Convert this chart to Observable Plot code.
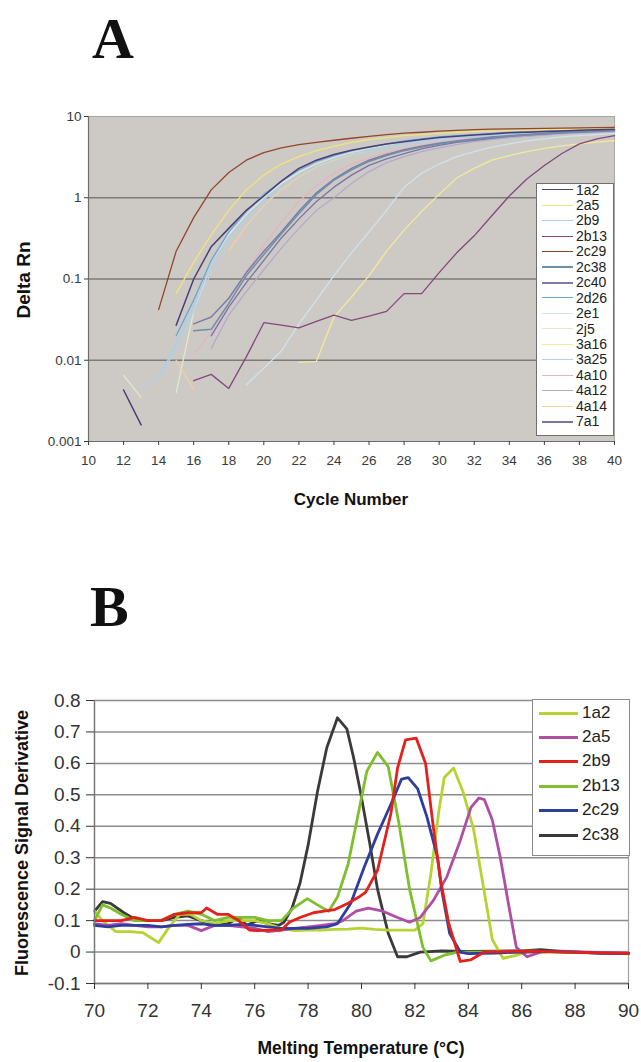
<!DOCTYPE html>
<html><head><meta charset="utf-8">
<script src="https://cdn.jsdelivr.net/npm/d3@7"></script>
<script src="https://cdn.jsdelivr.net/npm/@observablehq/plot@0.6"></script>
<style>
body{margin:0;background:#fff;}
#root{position:relative;width:641px;height:1062px;overflow:hidden;font-family:"Liberation Sans",Arial,sans-serif;background:#fff;}
.abs{position:absolute;}
.ctr{position:absolute;transform:translate(-50%,-50%);white-space:nowrap;}
.rot{position:absolute;transform:translate(-50%,-50%) rotate(-90deg);white-space:nowrap;}
.panel{position:absolute;font-family:"Liberation Serif","Times New Roman",serif;font-weight:bold;line-height:1.15;}
</style>
</head><body><div id="root"></div>
<script>
// ---------- Panel A data (Delta Rn by cycle, cycles 10..40) ----------
const cycles = [10,11,12,13,14,15,16,17,18,19,20,21,22,23,24,25,26,27,28,29,30,31,32,33,34,35,36,37,38,39,40];
const seriesA = ["1a2","2a5","2b9","2b13","2c29","2c38","2c40","2d26","2e1","2j5","3a16","3a25","4a10","4a12","4a14","7a1"];
const colorsA = ["#4a3e78","#f0e47a","#a9d0ea","#85477d","#94452a","#6f8fa6","#7c7ca8","#6aa6d6","#cfe3ef","#e3e8cf","#f2ea9a","#b9cfe0","#e3b5bd","#b3a9cc","#f1cfa0","#7b72a8"];
const a_1a2  = [null,null,0.0043,0.0016,null,0.027,0.10,0.25,0.42,0.7,1.05,1.6,2.3,2.9,3.4,3.85,4.2,4.6,4.9,5.2,5.5,5.7,5.9,6.1,6.3,6.4,6.55,6.65,6.75,6.85,6.95];
const a_2a5  = [null,null,null,null,null,0.066,0.16,0.35,0.7,1.25,1.9,2.6,3.2,3.8,4.3,4.8,5.2,5.5,5.8,6.0,6.2,6.4,6.5,6.6,6.7,6.8,6.9,6.95,7.0,7.05,7.1];
const a_2b9  = [null,null,null,null,0.006,0.016,0.045,0.15,0.33,0.58,0.95,1.4,1.95,2.5,3.0,3.5,3.9,4.3,4.7,5.0,5.3,5.5,5.7,5.9,6.1,6.3,6.4,6.5,6.6,6.7,6.8];
const a_2b13 = [null,null,null,null,null,null,0.0056,0.0067,0.0045,0.011,0.029,0.027,0.025,0.03,0.036,0.031,0.035,0.04,0.066,0.066,0.12,0.21,0.34,0.6,1.05,1.7,2.5,3.5,4.6,5.3,5.8];
const a_2c29 = [null,null,null,null,0.042,0.22,0.57,1.25,2.05,2.9,3.6,4.1,4.5,4.8,5.1,5.4,5.7,6.0,6.25,6.4,6.6,6.75,6.9,7.0,7.05,7.1,7.15,7.2,7.25,7.3,7.35];
const a_2c38 = [null,null,null,null,null,null,0.023,0.024,0.05,0.11,0.2,0.36,0.64,1.1,1.65,2.2,2.8,3.3,3.8,4.2,4.6,4.9,5.2,5.5,5.7,5.9,6.1,6.3,6.4,6.55,6.7];
const a_2c40 = [null,null,null,null,null,null,0.028,0.034,0.058,0.12,0.22,0.38,0.68,1.15,1.7,2.3,2.9,3.4,3.9,4.3,4.7,5.0,5.3,5.6,5.8,6.0,6.2,6.4,6.5,6.65,6.8];
const a_2d26 = [null,null,null,null,null,0.02,0.055,0.17,0.38,0.68,1.1,1.6,2.2,2.8,3.3,3.8,4.2,4.6,5.0,5.3,5.6,5.8,6.0,6.2,6.4,6.5,6.6,6.7,6.8,6.9,7.0];
const a_2e1  = [null,null,null,null,null,null,null,null,null,0.005,0.008,0.013,0.028,0.055,0.11,0.21,0.38,0.7,1.35,2.0,2.6,3.2,3.7,4.2,4.6,5.0,5.3,5.6,5.8,6.0,6.2];
const a_2j5  = [null,null,0.0065,0.0035,null,0.004,0.04,0.15,0.35,0.62,1.0,1.5,2.05,2.6,3.1,3.6,4.0,4.4,4.8,5.1,5.4,5.6,5.8,6.0,6.2,6.3,6.4,6.5,6.6,6.7,6.8];
const a_3a16 = [null,null,null,null,null,null,null,null,null,null,null,null,0.0094,0.0097,0.034,0.06,0.11,0.22,0.4,0.68,1.1,1.75,2.3,2.9,3.3,3.7,4.05,4.35,4.6,4.85,5.05];
const a_3a25 = [null,null,null,0.0048,0.0058,0.014,0.04,0.12,0.28,0.5,0.85,1.3,1.8,2.3,2.8,3.3,3.7,4.1,4.5,4.8,5.1,5.3,5.5,5.7,5.9,6.1,6.2,6.3,6.4,6.5,6.6];
const a_4a10 = [null,null,null,null,null,null,0.012,0.022,0.05,0.12,0.26,0.5,0.9,1.4,2.0,2.6,3.1,3.6,4.0,4.4,4.8,5.1,5.4,5.6,5.8,6.0,6.2,6.3,6.4,6.5,6.6];
const a_4a12 = [null,null,null,null,null,null,null,0.014,0.036,0.07,0.13,0.24,0.42,0.7,1.0,1.5,2.1,2.7,3.2,3.7,4.1,4.5,4.9,5.2,5.5,5.7,5.9,6.1,6.3,6.4,6.5];
const a_4a14 = [null,null,null,null,null,0.01,0.0044,null,0.22,0.45,0.8,1.25,1.8,2.4,2.9,3.4,3.9,4.3,4.7,5.0,5.3,5.6,5.8,6.0,6.2,6.4,6.5,6.6,6.7,6.8,6.9];
const a_7a1  = [null,null,null,null,null,null,null,0.02,0.045,0.09,0.17,0.32,0.55,0.9,1.35,1.9,2.5,3.0,3.5,4.0,4.4,4.8,5.1,5.4,5.7,5.9,6.1,6.3,6.45,6.6,6.7];
const valuesA = [a_1a2,a_2a5,a_2b9,a_2b13,a_2c29,a_2c38,a_2c40,a_2d26,a_2e1,a_2j5,a_3a16,a_3a25,a_4a10,a_4a12,a_4a14,a_7a1];
const xTicksA = [10,12,14,16,18,20,22,24,26,28,30,32,34,36,38,40];
const yTicksA = [0.001,0.01,0.1,1,10];
const yGridA = [0.01,0.1,1];

// ---------- Panel B data (melt curve derivative) ----------
const seriesB = ["1a2","2a5","2b9","2b13","2c29","2c38"];
const colorsB = ["#b6d334","#b04ea6","#e3201b","#7fbe2c","#2d3e9c","#3a3a3a"];
const b_1a2 = [[70,0.13],[70.3,0.1],[70.8,0.065],[71.3,0.065],[71.8,0.062],[72.4,0.03],[72.8,0.08],[73.2,0.12],[73.6,0.12],[74,0.1],[74.5,0.09],[75,0.1],[75.5,0.1],[76,0.1],[76.5,0.09],[77,0.075],[77.5,0.068],[78,0.07],[78.5,0.07],[79,0.072],[79.5,0.073],[80,0.076],[80.5,0.072],[81,0.07],[81.5,0.07],[82,0.07],[82.3,0.09],[82.6,0.25],[82.9,0.45],[83.1,0.555],[83.45,0.585],[83.8,0.51],[84.2,0.39],[84.5,0.24],[84.9,0.04],[85.3,-0.02],[85.7,-0.012],[86.2,0],[87,0.001],[88,-0.002],[89,-0.003],[90,-0.004]];
const b_2a5 = [[70,0.09],[70.5,0.085],[71,0.09],[71.5,0.085],[72,0.08],[72.5,0.08],[73,0.085],[73.5,0.085],[74,0.068],[74.5,0.085],[75,0.085],[75.5,0.08],[76,0.075],[76.5,0.065],[77,0.07],[77.5,0.075],[78,0.08],[78.5,0.085],[79,0.09],[79.3,0.1],[79.8,0.13],[80.25,0.14],[80.8,0.13],[81.35,0.11],[81.8,0.095],[82.2,0.11],[82.7,0.165],[83.2,0.24],[83.7,0.355],[84.1,0.46],[84.4,0.49],[84.6,0.485],[84.9,0.42],[85.2,0.3],[85.5,0.155],[85.8,0.015],[86.2,-0.015],[86.7,0.0],[87.5,0.003],[88.5,0],[90,-0.003]];
const b_2b9 = [[70,0.1],[70.5,0.1],[71,0.1],[71.5,0.11],[72,0.1],[72.5,0.1],[73,0.12],[73.5,0.125],[74,0.125],[74.2,0.14],[74.6,0.12],[75,0.12],[75.4,0.1],[75.8,0.07],[76.1,0.068],[76.5,0.07],[77,0.07],[77.3,0.095],[77.7,0.11],[78.2,0.125],[78.6,0.13],[79,0.135],[79.5,0.155],[79.9,0.175],[80.15,0.19],[80.6,0.26],[81.1,0.44],[81.35,0.585],[81.65,0.675],[82.05,0.68],[82.4,0.6],[82.7,0.39],[82.96,0.23],[83.27,0.09],[83.7,-0.03],[84.08,-0.025],[84.6,0],[85.5,0.002],[86.5,0.003],[87.5,0],[88.5,-0.002],[90,-0.004]];
const b_2b13 = [[70,0.1],[70.3,0.15],[70.6,0.14],[71,0.12],[71.5,0.1],[72,0.1],[72.5,0.1],[73,0.12],[73.5,0.13],[74,0.12],[74.5,0.1],[75,0.11],[75.5,0.11],[76,0.11],[76.5,0.1],[77,0.1],[77.45,0.14],[77.97,0.17],[78.35,0.15],[78.77,0.13],[79.1,0.175],[79.5,0.28],[79.95,0.47],[80.2,0.575],[80.6,0.635],[81.0,0.59],[81.4,0.41],[81.8,0.2],[82.3,0.015],[82.6,-0.028],[83.1,-0.01],[83.6,0.0],[84.5,0],[85.5,0.002],[86.5,0.003],[87.5,0],[88.5,-0.002],[90,-0.003]];
const b_2c29 = [[70,0.085],[70.5,0.08],[71,0.085],[71.5,0.085],[72,0.085],[72.5,0.08],[73,0.085],[73.5,0.088],[74,0.09],[74.5,0.085],[75,0.085],[75.5,0.088],[76,0.085],[76.5,0.08],[77,0.075],[77.5,0.075],[78,0.075],[78.7,0.08],[79.1,0.09],[79.6,0.155],[80.1,0.27],[80.6,0.375],[81.1,0.47],[81.5,0.55],[81.75,0.555],[82.1,0.52],[82.45,0.43],[82.85,0.3],[83.0,0.2],[83.3,0.06],[83.7,0.0],[84,-0.005],[85,-0.003],[86,0],[87,0.002],[88,0],[89,-0.004],[90,-0.005]];
const b_2c38 = [[70,0.13],[70.3,0.16],[70.6,0.155],[71.1,0.125],[71.5,0.105],[72,0.1],[72.5,0.1],[73,0.11],[73.5,0.115],[74,0.1],[74.5,0.085],[75,0.09],[75.4,0.11],[75.7,0.085],[76.1,0.1],[76.5,0.09],[76.9,0.085],[77.1,0.095],[77.4,0.14],[77.7,0.22],[78.0,0.34],[78.35,0.51],[78.7,0.65],[79.1,0.745],[79.45,0.71],[79.7,0.62],[79.96,0.51],[80.3,0.35],[80.6,0.2],[81.0,0.06],[81.35,-0.015],[81.7,-0.015],[82.2,0.0],[83,0.004],[84,0.002],[85,0.003],[86,0.004],[86.7,0.008],[87.5,0.002],[88,0],[89,-0.003],[90,-0.005]];
const valuesB = [b_1a2,b_2a5,b_2b9,b_2b13,b_2c29,b_2c38];
const xTicksB = [70,72,74,76,78,80,82,84,86,88,90];
const yTicksB = [-0.1,0,0.1,0.2,0.3,0.4,0.5,0.6,0.7,0.8];

const root = document.getElementById("root");
function addDiv(cls, text, css){ const d=document.createElement("div"); d.className=cls; d.textContent=text; Object.assign(d.style, css); root.appendChild(d); return d; }

// ---------- Panel A ----------
const rowsA = [];
seriesA.forEach((s,i)=>cycles.forEach((c,j)=>rowsA.push({series:s, cycle:c, value:valuesA[i][j]})));
const drawOrderA = ["2e1","2j5","3a25","4a14","3a16","4a10","4a12","2b9","2d26","2a5","7a1","2c40","2c38","2b13","1a2","2c29"];
const plotA = Plot.plot({
  width: 641, height: 381,
  marginTop: 16, marginLeft: 88, marginRight: 27, marginBottom: 40,
  style: {fontFamily: "Liberation Sans, Arial, sans-serif", color: "#3a3a3a", background: "transparent"},
  x: {domain: [10,40], axis: null},
  y: {type: "log", domain: [0.001,10], axis: null},
  color: {domain: seriesA, range: colorsA},
  marks: [
    Plot.frame({fill: "#cdcac6", stroke: "#a9a7a4"}),
    Plot.ruleY(yGridA, {stroke: "#7d7b79", strokeWidth: 1.6}),
    ...drawOrderA.map(s => Plot.line(rowsA.filter(r=>r.series===s), {x:"cycle", y:"value", stroke:"series", strokeWidth: (s==="2c38"||s==="2c40"||s==="1a2")?1.5:1.3})),
    Plot.ruleX([10], {stroke: "#6d6d6d", strokeWidth: 1.2}),
    Plot.ruleY([0.001], {stroke: "#6d6d6d", strokeWidth: 1.2}),
    Plot.axisY({ticks: yTicksA, tickFormat: d => String(d), tickSize: 4, tickPadding: 3, fontSize: 13.5, label: null}),
    Plot.axisX({ticks: xTicksA, tickFormat: d => String(d), tickSize: 4, tickPadding: 10, fontSize: 13.5, label: null})
  ]
});
plotA.style.position = "absolute"; plotA.style.left = "0px"; plotA.style.top = "100px";
root.appendChild(plotA);

// legend A
const legA = document.createElement("div");
Object.assign(legA.style, {position:"absolute", left:"536px", top:"183px", width:"76px", height:"251px", background:"#fff", border:"1px solid #6f6f6f"});
root.appendChild(legA);
seriesA.forEach((s,i)=>{
  const y = 190 + i*15.45;
  const ln = document.createElement("div");
  Object.assign(ln.style, {position:"absolute", left:"542px", top:(y-0.8)+"px", width:"31px", height:"0px", borderTop:((s==="2c38"||s==="2c40"||s==="7a1")?"2.2px":"1.6px")+" solid "+colorsA[i]});
  root.appendChild(ln);
  addDiv("abs", s, {left:"576px", top:(y-8.5)+"px", fontSize:"14px", lineHeight:"17px", color:"#222"});
});

addDiv("panel", "A", {left:"92px", top:"6px", fontSize:"58px", color:"#111"});
addDiv("rot", "Delta Rn", {left:"24px", top:"280px", fontSize:"19px", fontWeight:"bold", color:"#111"});
addDiv("ctr", "Cycle Number", {left:"351px", top:"500px", fontSize:"17px", fontWeight:"bold", color:"#111"});

// ---------- Panel B ----------
const rowsB = [];
seriesB.forEach((s,i)=>valuesB[i].forEach(p=>rowsB.push({series:s, temp:p[0], value:p[1]})));
const drawOrderB = ["2c38","1a2","2b13","2a5","2c29","2b9"];
const plotB = Plot.plot({
  width: 641, height: 342,
  marginTop: 10, marginLeft: 94, marginRight: 13, marginBottom: 49,
  style: {fontFamily: "Liberation Sans, Arial, sans-serif", color: "#333", background: "transparent"},
  x: {domain: [70,90], axis: null},
  y: {domain: [-0.1,0.8], axis: null},
  color: {domain: seriesB, range: colorsB},
  marks: [
    Plot.ruleY(yTicksB, {stroke: "#8c8c8c", strokeWidth: 1.5}),
    Plot.ruleX([90], {stroke: "#a0a0a0", strokeWidth: 1.2}),
    ...drawOrderB.map(s => Plot.line(rowsB.filter(r=>r.series===s), {x:"temp", y:"value", stroke:"series", strokeWidth: 2.8, strokeLinejoin:"round"})),
    Plot.ruleX([70], {stroke: "#777", strokeWidth: 1.5}),
    Plot.ruleY([-0.1], {stroke: "#777", strokeWidth: 1.5}),
    Plot.axisY({ticks: yTicksB, tickFormat: d => String(Math.round(d*10)/10), tickSize: 8, tickPadding: 6, fontSize: 19, label: null}),
    Plot.axisX({ticks: xTicksB, tickFormat: d => String(d), tickSize: 6, tickPadding: 14, fontSize: 19, label: null})
  ]
});
plotB.style.position = "absolute"; plotB.style.left = "0px"; plotB.style.top = "690px";
root.appendChild(plotB);

// legend B
const legB = document.createElement("div");
Object.assign(legB.style, {position:"absolute", left:"532px", top:"699px", width:"96px", height:"155px", background:"#fff", border:"1px solid #8a8a8a"});
root.appendChild(legB);
seriesB.forEach((s,i)=>{
  const y = 713 + i*24.4;
  const ln = document.createElement("div");
  Object.assign(ln.style, {position:"absolute", left:"539px", top:(y-1.5)+"px", width:"39px", height:"0px", borderTop:"3px solid "+colorsB[i]});
  root.appendChild(ln);
  addDiv("abs", s, {left:"582px", top:(y-10.5)+"px", fontSize:"17px", lineHeight:"20px", color:"#222"});
});

addDiv("panel", "B", {left:"90px", top:"574px", fontSize:"58px", color:"#111"});
addDiv("rot", "Fluorescence Signal Derivative", {left:"22px", top:"843px", fontSize:"18px", fontWeight:"bold", color:"#111"});
addDiv("ctr", "Melting Temperature (°C)", {left:"361px", top:"1048px", fontSize:"17.5px", fontWeight:"bold", color:"#111"});
</script>
</body></html>
